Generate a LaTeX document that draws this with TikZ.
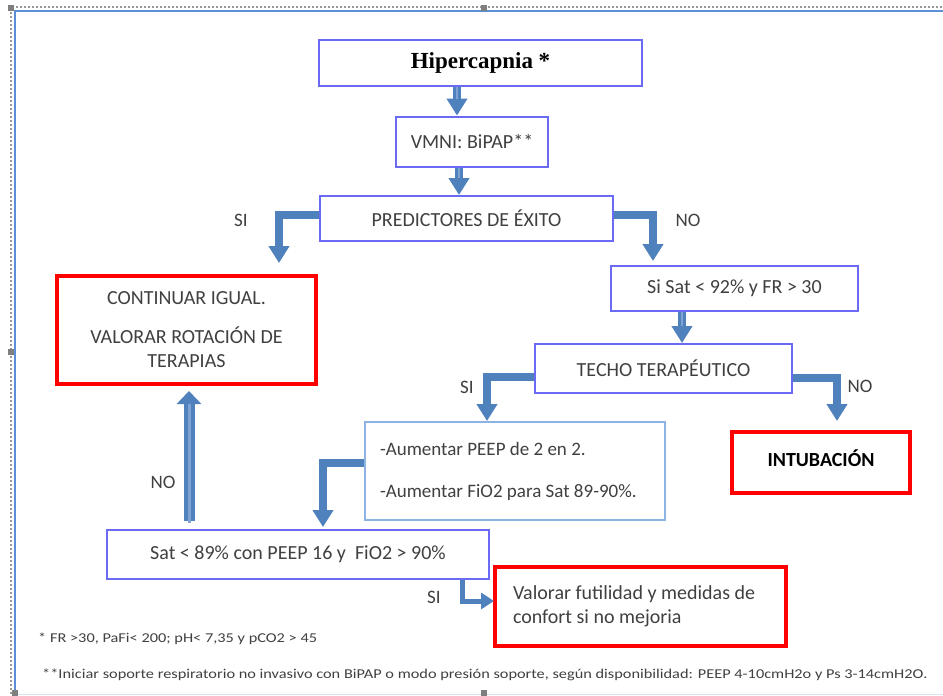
\documentclass[tikz,border=0pt]{standalone}
\usepackage{fontspec}
\setmainfont{Carlito}
\newfontfamily\hfont{Liberation Serif}
\newfontfamily\footfont{Carlito}[FakeStretch=1.21]
\usetikzlibrary{arrows.meta}
\definecolor{boxblue}{HTML}{6A6AF5}
\definecolor{lightbl}{HTML}{8DB3E2}
\definecolor{arrblue}{HTML}{4F81BD}
\definecolor{arrlight}{HTML}{7EA2D4}
\definecolor{txt}{HTML}{404040}
\definecolor{redb}{HTML}{FF0000}
\definecolor{framebl}{HTML}{5B8FD6}
\definecolor{handle}{HTML}{7F7F7F}
\begin{document}
\begin{tikzpicture}[x=1pt,y=-1pt,
  base/.style={text=txt, font=\fontsize{20}{24}\selectfont, inner sep=0pt, fill=white},
  bluebox/.style={base, draw=boxblue, line width=2pt, align=center},
  lbox/.style={base, draw=lightbl, line width=1.5pt, align=flush left},
  redbox/.style={base, draw=redb, line width=4pt},
  lbl/.style={text=txt, font=\fontsize{19}{22}\selectfont, inner sep=0pt},
  barrow/.style={draw=arrblue, line width=7.5pt, line join=miter,
     -{Triangle[width=20pt,length=17pt]}},
  shine/.style={draw=arrlight, line width=2.5pt},
  foot/.style={text=txt, font=\footfont\fontsize{13.5}{15}\selectfont, inner sep=0pt, anchor=west}
]
\useasboundingbox (0,0) rectangle (943,696);
\fill[white] (0,0) rectangle (943,696);

% window frame
\draw[handle!80, dash pattern=on 2pt off 2pt, line width=1.2pt] (11,694) -- (11,7) -- (943,7);
\draw[framebl, line width=2pt] (15,694) -- (15,10.5) -- (943,10.5);
\draw[framebl!25, line width=1pt] (15,694) -- (943,694);
\foreach \p in {(11,8),(484,8),(11,352),(15,693),(484,693)}
  \fill[handle] \p ++(-3,-3) rectangle ++(6,6);

% boxes
\node[bluebox, minimum width=323pt, minimum height=46pt,
  font=\hfont\bfseries\fontsize{23}{26}\selectfont, text=black] (hip) at (480.5,63) {\raisebox{-2.5pt}{Hipercapnia *}};
\node[bluebox, minimum width=152pt, minimum height=50pt] (vmni) at (472,141.5) {VMNI: BiPAP**};
\node[bluebox, minimum width=293pt, minimum height=45pt] (pred) at (466.5,218.5) {PREDICTORES DE ÉXITO};
\node[redbox, minimum width=259pt, minimum height=108pt, align=center] (cont) at (186.5,330)
  {\raisebox{-2pt}{CONTINUAR IGUAL.}\\[17pt]VALORAR ROTACIÓN DE\\TERAPIAS};
\node[bluebox, minimum width=247pt, minimum height=45pt] (sat) at (734.5,288.5) {Si Sat < 92\% y FR > 30};
\node[bluebox, minimum width=257pt, minimum height=49pt] (techo) at (663.5,368.5) {TECHO TERAPÉUTICO};
\node[lbox, text width=270pt, inner xsep=15pt, minimum height=98pt,
  font=\fontsize{19}{23}\selectfont] (aum) at (515,471)
  {-Aumentar PEEP de 2 en 2.\\[19pt]-Aumentar FiO2 para Sat 89-90\%.};
\node[redbox, minimum width=178pt, minimum height=61pt, text=black,
  font=\bfseries\fontsize{20}{24}\selectfont] (intub) at (821,462.5) {\raisebox{9pt}{INTUBACIÓN}};
\node[bluebox, minimum width=382pt, minimum height=49pt] (sat89) at (298,554.5)
  {Sat < 89\% con PEEP 16 y \ FiO2 > 90\%};
\node[redbox, text width=255pt, inner xsep=18pt, minimum height=79pt, align=flush left] (fut) at (640.5,606.5)
  {Valorar futilidad y medidas de\\confort si no mejoria};

% connector x positions
\coordinate (x1) at (457,0);
\coordinate (x2) at (459,0);
\coordinate (x3) at (682,0);
\coordinate (x4) at (189,0);
\coordinate (siA) at (279,263);
\coordinate (noA) at (653,261);
\coordinate (siB) at (487,421);
\coordinate (noB) at (837,421);
\coordinate (aumE) at (323,527);
\coordinate (noUp) at (189,391);
\coordinate (futE) at (494,601);
\coordinate (satS) at (462,0);

% arrows
\draw[barrow] (hip.south -| x1) -- (vmni.north -| x1);
\draw[shine] (hip.south -| x1) -- ([yshift=17pt]vmni.north -| x1);
\draw[barrow] (vmni.south -| x2) -- (pred.north -| x2);
\draw[shine] (vmni.south -| x2) -- ([yshift=17pt]pred.north -| x2);
\draw[barrow] ([yshift=3.5pt]pred.west) -| (siA);
\draw[barrow] ([yshift=3.5pt]pred.east) -| (noA);
\draw[barrow] (sat.south -| x3) -- (techo.north -| x3);
\draw[shine] (sat.south -| x3) -- ([yshift=17pt]techo.north -| x3);
\draw[barrow] ([yshift=-8.5pt]techo.west) -| (siB);
\draw[barrow] ([yshift=-9.5pt]techo.east) -| (noB);
\draw[barrow] ([yshift=8pt]aum.west) -| (aumE);
\draw[barrow, line width=11pt, -{Triangle[width=24pt,length=13pt]}] ([yshift=8pt]sat89.north -| x4) -- (noUp);
\draw[shine, line width=3pt] ([yshift=6pt]sat89.north -| x4) -- ([yshift=-13pt]noUp);
\draw[barrow, line width=5pt, -{Triangle[width=16pt,length=13pt]}] (sat89.south -| satS) |- (futE);

% labels
\node[lbl] (lsi1) at (241,220) {SI};
\node[lbl] (lno1) at (688,220) {NO};
\node[lbl] (lsi2) at (467,387) {SI};
\node[lbl] (lno2) at (860,386) {NO};
\node[lbl] (lno3) at (163,482) {NO};
\node[lbl] (lsi3) at (434,597) {SI};

% footnotes
\node[foot] (f1) at (38,639) {* FR >30, PaFi< 200; pH< 7,35 y pCO2 > 45};
\node[foot] (f2) at (42,675) {**Iniciar soporte respiratorio no invasivo con BiPAP o modo presión soporte, según disponibilidad: PEEP 4-10cmH2o y Ps 3-14cmH2O.};
\end{tikzpicture}
\end{document}
